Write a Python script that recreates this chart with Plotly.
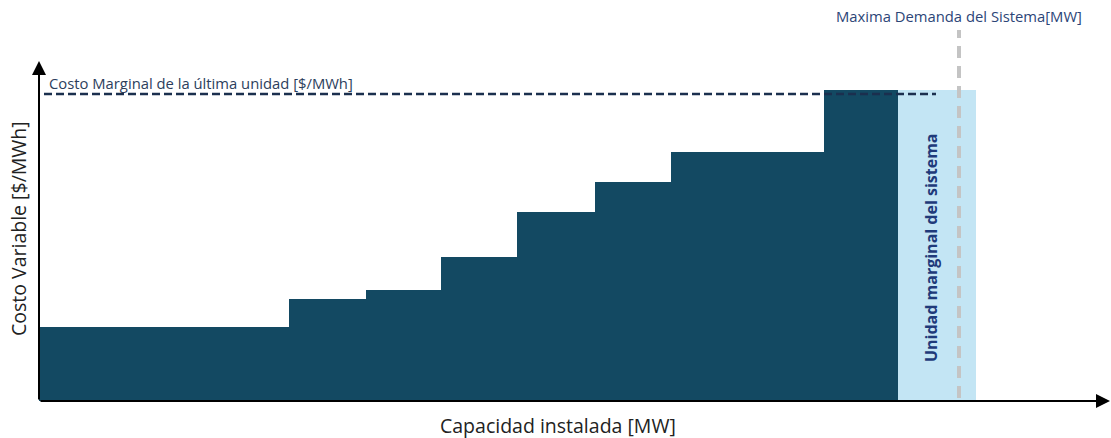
import plotly.graph_objects as go
import numpy as np

# Data (arbitrary units)
unit_widths = [250, 77, 75, 76, 78, 76, 153, 74]      # MW
unit_costs = [74, 102, 111, 144, 189, 219, 249, 311]    # $/MWh
marginal_width = 78
marginal_cost = 311
max_demand = 920
marginal_line_cost = 307

dark = "#134962"
light = "#c3e5f4"

edges = np.concatenate([[0], np.cumsum(unit_widths)])
centers = (edges[:-1] + edges[1:]) / 2
m_start = edges[-1]

fig = go.Figure()
fig.add_trace(go.Bar(x=centers, y=unit_costs, width=unit_widths,
                     marker=dict(color=dark, line=dict(width=0)), showlegend=False))
fig.add_trace(go.Bar(x=[m_start + marginal_width / 2], y=[marginal_cost], width=[marginal_width],
                     marker=dict(color=light, line=dict(width=0)), showlegend=False))

# marginal cost dashed line
fig.add_trace(go.Scatter(x=[5, m_start + 38], y=[marginal_line_cost, marginal_line_cost], mode="lines",
                         line=dict(color="#1b2f4e", width=2.5, dash="8px,4px"), showlegend=False))
# max demand gray dashed line
fig.add_trace(go.Scatter(x=[max_demand, max_demand], y=[3, 371], mode="lines",
                         line=dict(color="#c4c4c4", width=4, dash="12px,8px"), showlegend=False))

font = "Open Sans"
annotations = [
    # axes arrows
    dict(x=1071, y=0, ax=0, ay=0, xref="x", yref="y", axref="x", ayref="y",
         showarrow=True, arrowhead=2, arrowsize=1.4, arrowwidth=2, arrowcolor="black", text=""),
    dict(x=0, y=340, ax=0, ay=0, xref="x", yref="y", axref="x", ayref="y",
         showarrow=True, arrowhead=2, arrowsize=1.4, arrowwidth=2, arrowcolor="black", text=""),
    dict(x=8, y=318, xref="x", yref="y", text="Costo Marginal de la última unidad [$/MWh]",
         showarrow=False, xanchor="left", yanchor="middle",
         font=dict(family=font, size=14.8, color="#2c3e5c")),
    dict(x=max_demand, y=385, xref="x", yref="y", text="Maxima Demanda del Sistema[MW]",
         showarrow=False, xanchor="center", yanchor="middle",
         font=dict(family=font, size=14.8, color="#2c4577")),
    dict(x=m_start + 33, y=153, xref="x", yref="y", text="<b>Unidad marginal del sistema</b>",
         showarrow=False, textangle=-90, xanchor="center", yanchor="middle",
         font=dict(family=font, size=16, color="#1f3a7a")),
    dict(x=18, y=229, xref="paper", yref="paper", text="Costo Variable [$/MWh]",
         showarrow=False, textangle=-90, xanchor="center", yanchor="middle",
         font=dict(family=font, size=19.5, color="#222")),
    dict(x=558, y=425, xref="paper", yref="paper", text="Capacidad instalada [MW]",
         showarrow=False, xanchor="center", yanchor="middle",
         font=dict(family=font, size=19.5, color="#222")),
]

# convert pixel positions of the two axis titles into paper coordinates
for a in annotations[-2:]:
    a["x"] = (a["x"] - 39) / 1072
    a["y"] = (401 - a["y"]) / 401

fig.update_layout(
    width=1111, height=438,
    margin=dict(l=39, r=0, t=0, b=37),
    plot_bgcolor="white", paper_bgcolor="white",
    bargap=0,
    xaxis=dict(range=[0, 1072], visible=False, fixedrange=True),
    yaxis=dict(range=[0, 401], visible=False, fixedrange=True),
    annotations=annotations,
)

fig.write_html("out.html")
